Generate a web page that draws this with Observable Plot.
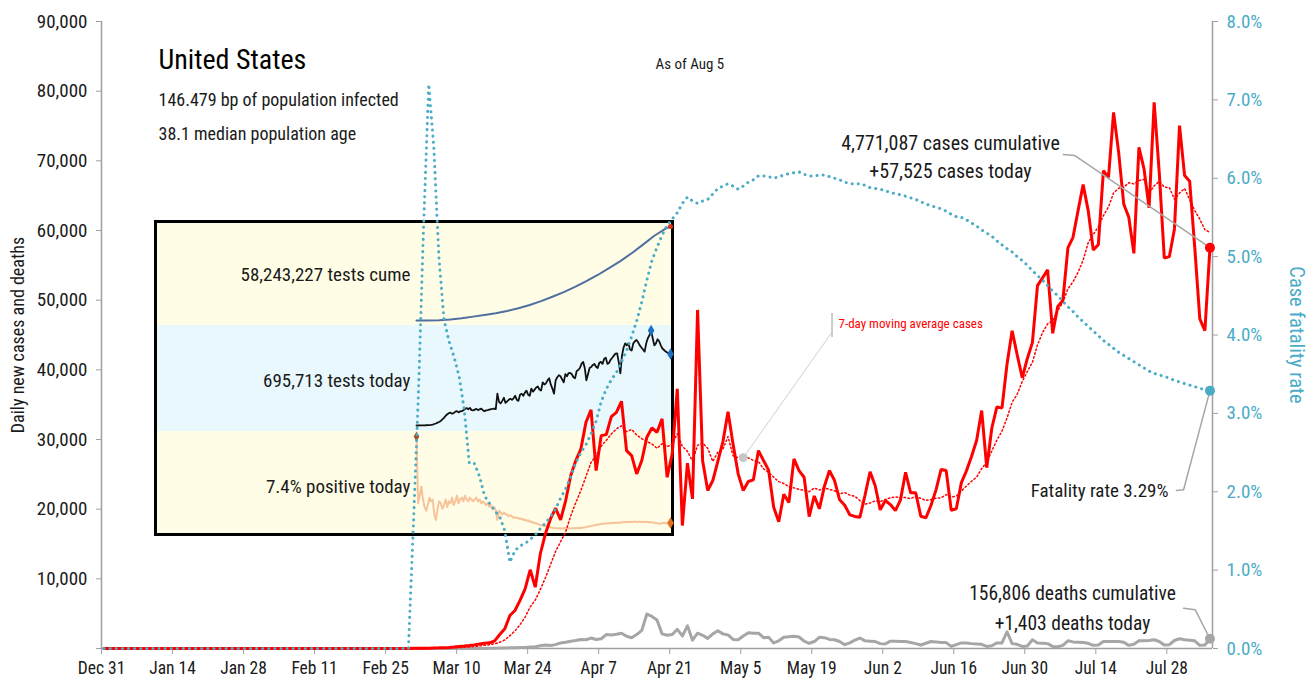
<!DOCTYPE html>
<html><head><meta charset="utf-8">
<script src="https://cdn.jsdelivr.net/npm/d3@7"></script>
<script src="https://cdn.jsdelivr.net/npm/@observablehq/plot@0.6"></script>
<style>
body{margin:0;background:#fff;}
#wrap{position:relative;width:1315px;height:685px;overflow:hidden;background:#fff;}
#inset{position:absolute;left:154px;top:220px;width:520px;height:316px;border:3px solid #000;box-sizing:border-box;}
#inset svg{display:block;overflow:visible;}
#main{position:absolute;left:0;top:0;}
#main svg{overflow:visible;}
</style></head><body><div id="wrap"><div id="inset"></div><div id="main"></div></div>
<script>
// ---------------- DATA ----------------
const seriesStart = "2019-12-31";            // first day of the daily series
const xTickDates = ["2019-12-31","2020-01-14","2020-01-28","2020-02-11","2020-02-25","2020-03-10","2020-03-24","2020-04-07","2020-04-21","2020-05-05","2020-05-19","2020-06-02","2020-06-16","2020-06-30","2020-07-14","2020-07-28"];
const leftTicks = [0,10000,20000,30000,40000,50000,60000,70000,80000,90000];
const rightTicksPct = [0,1,2,3,4,5,6,7,8];

// daily new cases, Dec 31 .. Aug 5
const dailyCases = [
0,0,0,0,0,0,0,0,0,0, 0,0,0,0,0,0,0,0,0,0, 0,0,0,0,0,0,0,0,0,0,
0,0,0,0,0,0,0,0,0,0, 0,0,0,0,0,0,0,0,0,0, 0,0,0,0,0,0,0,0,0,0,
10,20,25,35,50,70,90,120,150,200,
280,350,430,520,650,750,820,1100,2000,2830,
4730,5450,6900,8570,11300,8800,13600,16460,18600,20130,
18470,21240,24830,26980,28660,32470,34250,25540,30560,30700,
33290,33900,35490,28410,27690,25060,26980,30320,31670,31040,
32960,24580,27940,37270,17650,26600,21480,48600,26900,22680,
24110,26900,29700,34000,29300,25070,22680,23970,24210,28410,
26980,25600,20280,18200,22150,20950,27220,25540,24580,18940,
21900,20050,23300,25540,24110,21340,20570,19190,18960,18840,
22000,25350,23390,19900,21240,20660,19800,21340,25300,22340,
22340,18990,18760,20520,22770,25700,25540,19850,20050,23820,
25500,27570,29850,34150,25950,31650,34680,34500,40850,45600,
42170,38860,41630,43910,52090,53200,54360,45250,49080,49940,
57500,59020,62850,66580,62850,57210,57970,68590,67630,76960,
71220,63810,61890,56720,71940,68840,63240,78390,68350,56050,
56250,60230,75050,67880,67060,57590,47310,45630,57525];

// daily new deaths, Dec 31 .. Aug 5
const dailyDeaths = [
0,0,0,0,0,0,0,0,0,0, 0,0,0,0,0,0,0,0,0,0, 0,0,0,0,0,0,0,0,0,0,
0,0,0,0,0,0,0,0,0,0, 0,0,0,0,0,0,0,0,0,0, 0,0,0,0,0,0,0,0,0,0,
1,0,1,4,2,2,3,4,4,3,
8,9,10,10,14,18,25,40,55,70,
90,110,130,160,230,260,400,500,420,560,
800,900,1050,1150,1300,1250,1500,1300,1400,2000,
1950,2050,2200,1750,1550,2000,2600,4950,4600,4100,
2100,1900,2000,2750,1800,3250,1200,2200,1900,1450,
2100,2550,2100,1950,1300,1250,1800,2250,2200,2200,
1550,1600,800,1100,1600,1700,1750,1650,1050,750,
1000,1600,1550,1300,1250,1000,550,800,1200,1500,
1100,1050,1000,700,650,1050,1050,1000,1000,850,
700,500,750,1000,950,850,850,300,550,800,
780,700,650,600,300,400,800,800,2400,700,
600,300,350,1250,800,750,700,300,250,450,
1100,950,900,850,750,450,500,1000,1000,1000,
1000,900,450,600,1100,1100,1150,1250,1000,500,
550,1150,1400,1250,1200,1100,450,500,1403];

// case fatality rate (%), Dec 31 .. Aug 5
const fatalityRatePct = [
0,0,0,0,0,0,0,0,0,0, 0,0,0,0,0,0,0,0,0,0, 0,0,0,0,0,0,0,0,0,0,
0,0,0,0,0,0,0,0,0,0, 0,0,0,0,0,0,0,0,0,0, 0,0,0,0,0,0,0,0,0,0,
0,1.6,3.3,5.4,7.2,6.4,5.0,4.2,3.92,3.72,
3.47,3.05,2.36,2.36,2.20,1.95,1.85,1.76,1.68,1.50,
1.10,1.25,1.31,1.34,1.39,1.45,1.53,1.60,1.68,1.78,
1.92,2.04,2.19,2.37,2.50,2.60,2.74,2.90,3.15,3.31,
3.43,3.52,3.66,3.80,3.98,4.18,4.42,4.70,4.95,5.12,
5.27,5.40,5.48,5.56,5.68,5.76,5.71,5.68,5.71,5.73,
5.80,5.87,5.90,5.93,5.90,5.86,5.90,5.95,5.98,6.03,
6.03,6.02,6.00,6.02,6.04,6.06,6.07,6.08,6.05,6.03,
6.03,6.04,6.04,6.02,6.00,5.98,5.95,5.93,5.93,5.93,
5.91,5.88,5.87,5.86,5.84,5.82,5.80,5.79,5.77,5.75,
5.73,5.70,5.67,5.65,5.63,5.61,5.58,5.54,5.51,5.50,
5.47,5.43,5.39,5.34,5.30,5.26,5.20,5.15,5.10,5.06,
5.00,4.95,4.89,4.82,4.76,4.70,4.63,4.56,4.50,4.43,
4.36,4.30,4.23,4.17,4.11,4.05,3.99,3.93,3.88,3.83,
3.78,3.74,3.70,3.66,3.62,3.58,3.54,3.51,3.49,3.47,
3.45,3.42,3.40,3.38,3.36,3.34,3.32,3.30,3.29];

// testing inset: daily series start Mar 1 .. Aug 5
const testsStart = "2020-03-01";
const testsTodayK = [
0.5,0.5,1,1,2,2,3, 4,5,7,10,15,20,28, 35,45,60,75,95,110,120,
125,115,120,135,140,128,138, 140,150,160,170,158,172,150, 148,155,162,150,158,165,150,
140,148,150,155,160,162,165, 160,310,230,215,240,270,220, 235,250,260,250,265,290,250,
240,300,310,290,320,340,300, 290,360,330,350,370,380,350, 340,420,400,410,440,460,400,
360,310,440,470,490,480,450, 420,500,480,510,512,500,470, 460,530,540,560,600,620,560,
440,500,560,570,590,600,572, 560,610,620,600,650,660,600, 610,640,660,680,700,703,620,
507,680,760,800,780,801,740, 730,800,820,833,810,780,760, 740,719,800,850,880,925,850,
780,800,840,820,780,750,735, 720,710,700,695.713];
const positivePct = [
53.9,18,22,27,20,16,14, 17,21,19,20,12,9,15, 19,18,15,17,20,16,19,
18,21,17,19,22,18,20, 21,19,22,20,19,21,20, 19,20,21,19,20,18,19,
18,17,18,16,17,15,16, 14,9,14,13,12,13,12, 12,11,11.5,11,10,10.5,10,
10,9.5,9.8,9,9.2,8.5,8.8, 8,8.2,7.6,7.4,7.2,6.8,6.5, 6.2,6,5.8,5.6,5.4,5.2,5,
4.8,4.6,4.5,4.6,4.4,4.5,4.4, 4.5,4.6,4.4,4.5,4.4,4.6,4.5, 4.6,4.7,4.5,4.8,4.7,4.9,5.0,
5.2,5.4,5.6,5.8,6.0,6.1,6.3, 6.5,6.6,6.8,6.9,7.0,7.2,7.1, 7.3,7.2,7.4,7.3,7.5,7.6,7.4,
7.6,7.8,7.7,7.9,8.0,7.8,8.1, 7.9,8.0,8.2,7.9,8.1,8.0,7.8, 8.0,7.9,8.1,7.8,7.9,7.7,7.6,
7.5,7.3,7.2,7.0,7.1,7.3,7.5, 7.3,7.2,7.6,7.4];
const testsCumeDates = ["2020-03-01","2020-03-08","2020-03-15","2020-03-22","2020-03-29","2020-04-05","2020-04-12","2020-04-19","2020-04-26","2020-05-03","2020-05-10","2020-05-17","2020-05-24","2020-05-31","2020-06-07","2020-06-14","2020-06-21","2020-06-28","2020-07-05","2020-07-12","2020-07-19","2020-07-26","2020-08-02","2020-08-05"];
const testsCumeM = [0,0.02,0.1,0.6,1.4,2.4,3.4,4.5,5.9,7.6,9.6,12.0,14.7,17.6,20.8,24.4,28.2,32.4,36.8,41.7,47.0,52.5,56.9,58.243227];

// labels
const titleText = "United States";
const subtitleLines = ["146.479 bp of population infected","38.1 median population age"];
const asOfText = "As of Aug 5";
const casesNote = "4,771,087 cases cumulative\n+57,525 cases today";
const fatalityNote = "Fatality rate 3.29%";
const deathsNote = "156,806 deaths cumulative\n+1,403 deaths today";
const maNote = "7-day moving average cases";
const insetLabels = ["58,243,227 tests cume","695,713 tests today","7.4% positive today"];

// ---------------- STYLE ----------------
const FONT = '"Liberation Sans Narrow","Arial Narrow","Roboto Condensed","DejaVu Sans Condensed",sans-serif';
const RED = "#ff0000", TEAL = "#4bacc6", GRAY = "#a6a6a6", AXIS = "#a0a0a0", INK = "#1a1a1a";
const K = 90000 / 8;                       // cases-axis units per 1% of fatality rate
const DAY = 864e5;
const t0 = Date.parse(seriesStart + "T00:00Z");
const dayAt = n => new Date(t0 + n * DAY);
const noon = (s, i) => new Date(Date.parse(s + "T12:00Z") + i * DAY);

const rows = dailyCases.map((c, i) => ({date: noon(seriesStart, i), cases: c, deaths: dailyDeaths[i], rate: fatalityRatePct[i]}));
const last = rows[rows.length - 1];
const xDomain = [dayAt(0), dayAt(rows.length)];
const maDay = 126; // May 5, where the moving-average note points
const maWindow = rows.slice(maDay - 6, maDay + 1);

const note = (txt, dx, dy, o = {}) => Plot.text([txt], {frameAnchor: "top-left", lineAnchor: "middle", textAnchor: "start", dx, dy, fill: INK, text: d => d, ...o});

// ---------------- MAIN CHART ----------------
const main = Plot.plot({
  width: 1315, height: 685,
  marginLeft: 101, marginRight: 103, marginTop: 21, marginBottom: 37,
  style: {background: "transparent", fontFamily: FONT, overflow: "visible"},
  x: {type: "utc", domain: xDomain, axis: null},
  y: {domain: [0, 90000], axis: null},
  marks: [
    Plot.ruleY([0], {stroke: AXIS, strokeWidth: 1.5}),
    Plot.ruleX([xDomain[0]], {stroke: AXIS, strokeWidth: 1.5}),
    Plot.ruleX([xDomain[1]], {stroke: AXIS, strokeWidth: 1.5}),
    Plot.axisX({ticks: xTickDates.map(s => new Date(s + "T00:00Z")), tickFormat: d3.utcFormat("%b %-d"),
      tickSize: 6, tickPadding: 7, fontSize: 17.5, stroke: AXIS, fill: INK, label: null}),
    Plot.axisY({anchor: "left", ticks: leftTicks, tickFormat: v => v === 0 ? "" : d3.format(",")(v), tickSize: 5, tickPadding: 9,
      fontSize: 19, stroke: AXIS, fill: INK, label: null}),
    Plot.axisY({anchor: "right", ticks: rightTicksPct.map(p => p * K), tickFormat: v => d3.format(".1f")(v / K) + "%",
      tickSize: 5, tickPadding: 9, fontSize: 19, stroke: AXIS, fill: TEAL, label: null}),
    // axis titles
    Plot.text(["Daily new cases and deaths"], {frameAnchor: "left", textAnchor: "middle", lineAnchor: "middle", dx: -83, rotate: -90, fontSize: 18, fill: INK, text: d => d}),
    Plot.text(["Case fatality rate"], {frameAnchor: "right", textAnchor: "middle", lineAnchor: "middle", dx: 84, rotate: 90, fontSize: 20.5, fill: TEAL, text: d => d}),
    // deaths
    Plot.line(rows, {x: "date", y: "deaths", stroke: GRAY, strokeWidth: 3}),
    // cases + moving average
    Plot.line(rows, {x: "date", y: "cases", stroke: RED, strokeWidth: 3, strokeLinejoin: "miter"}),
    Plot.line(rows, Plot.windowY({k: 7, anchor: "end", reduce: "mean"}, {x: "date", y: "cases", stroke: RED, strokeWidth: 1.5, strokeDasharray: "1.5 2.5"})),
    // fatality rate on the right axis
    Plot.line(rows, {x: "date", y: d => d.rate * K, stroke: TEAL, strokeWidth: 3, strokeDasharray: "0.1 6", strokeLinecap: "round"}),
    // leader lines
    Plot.line([{date: dayAt(189.6), v: 70900}, {date: dayAt(191.8), v: 70770}, {date: last.date, v: last.cases}], {x: "date", y: "v", stroke: GRAY, strokeWidth: 1.5}),
    Plot.line([{date: dayAt(211.9), v: 22680}, {date: dayAt(213.3), v: 22780}, {date: last.date, v: last.rate * K}], {x: "date", y: "v", stroke: GRAY, strokeWidth: 1.5}),
    Plot.line([{date: dayAt(213.3), v: 5785}, {date: dayAt(215.6), v: 5555}, {date: last.date, v: last.deaths}], {x: "date", y: "v", stroke: GRAY, strokeWidth: 1.5}),
    Plot.line([{date: dayAt(144.0), v: 45400}, {date: rows[maDay].date, v: d3.mean(maWindow, d => d.cases)}], {x: "date", y: "v", stroke: "#cfcfcf", strokeWidth: 1}),
    Plot.ruleX([dayAt(144.0)], {y1: 44630, y2: 48070, stroke: "#bdbdbd", strokeWidth: 1.5}),
    // end dots
    Plot.dot(maWindow, Plot.selectLast(Plot.windowY({k: 7, anchor: "end"}, {x: "date", y: "cases", r: 4.5, fill: "#c6c6c6"}))),
    Plot.dot(rows, Plot.selectLast({x: "date", y: "deaths", r: 5, fill: GRAY})),
    Plot.dot(rows, Plot.selectLast({x: "date", y: d => d.rate * K, r: 5, fill: TEAL})),
    Plot.dot(rows, Plot.selectLast({x: "date", y: "cases", r: 5, fill: RED})),
    // titles and notes
    note(titleText, 57, 39, {fontSize: 28, fill: "#000"}),
    note(subtitleLines[0], 57, 79, {fontSize: 18}),
    note(subtitleLines[1], 57, 113, {fontSize: 18}),
    note(asOfText, 554, 43, {fontSize: 15}),
    note(casesNote, 849, 134, {textAnchor: "middle", fontSize: 20, lineHeight: 1.4}),
    note(fatalityNote, 1067, 469, {textAnchor: "end", fontSize: 19}),
    note(deathsNote, 971, 584, {textAnchor: "middle", fontSize: 19.5, lineHeight: 1.52}),
    note(maNote, 737, 302, {fontSize: 13, fill: RED})
  ]
});
document.getElementById("main").append(main);

// ---------------- INSET (testing) ----------------
const testRows = testsTodayK.map((v, i) => ({date: noon(testsStart, i), today: v * 1000, positive: positivePct[i]}));
const cumeRows = testsCumeDates.map((s, i) => ({date: new Date(s + "T12:00Z"), cume: testsCumeM[i] * 1e6}));
const insetX = {type: "utc", domain: [testRows[0].date, testRows[testRows.length - 1].date], axis: null};
function band(height, mt, mb, bg, marks, label, labelDy) {
  return Plot.plot({
    width: 514, height, marginLeft: 259, marginRight: 1, marginTop: mt, marginBottom: mb,
    style: {background: bg, fontFamily: FONT, overflow: "visible"},
    x: insetX, y: {axis: null},
    marks: [...marks, Plot.text([label], {frameAnchor: "left", dx: -6, dy: labelDy, textAnchor: "end", lineAnchor: "middle", fontSize: 19, fill: INK, text: d => d})]
  });
}
const inset = document.getElementById("inset");
inset.append(band(102, 3, 5, "#fffde6", [
  Plot.line(cumeRows, {x: "date", y: "cume", stroke: "#4f6f9f", strokeWidth: 2}),
  Plot.dot(cumeRows, Plot.selectLast({x: "date", y: "cume", r: 2.5, fill: "#e0301e"}))
], insetLabels[0], 1));
inset.append(band(106, 5, 6, "#e9f8fd", [
  Plot.line(testRows, {x: "date", y: "today", stroke: "#111", strokeWidth: 1.8}),
  Plot.dot(testRows, Plot.selectMaxY({x: "date", y: "today", r: 3.5, symbol: "diamond", fill: "#1f6fc0"})),
  Plot.dot(testRows, Plot.selectLast({x: "date", y: "today", r: 3.5, symbol: "diamond", fill: "#1f6fc0"}))
], insetLabels[1], 3));
inset.append(band(102, 5, 5, "#fffde6", [
  Plot.line(testRows, {x: "date", y: "positive", stroke: "#f7c39b", strokeWidth: 2}),
  Plot.dot(testRows, Plot.selectFirst({x: "date", y: "positive", r: 3, symbol: "diamond", fill: "#a0522d"})),
  Plot.dot(testRows, Plot.selectLast({x: "date", y: "positive", r: 3.5, symbol: "diamond", fill: "#e07020"}))
], insetLabels[2], 4));
</script>
</body></html>
